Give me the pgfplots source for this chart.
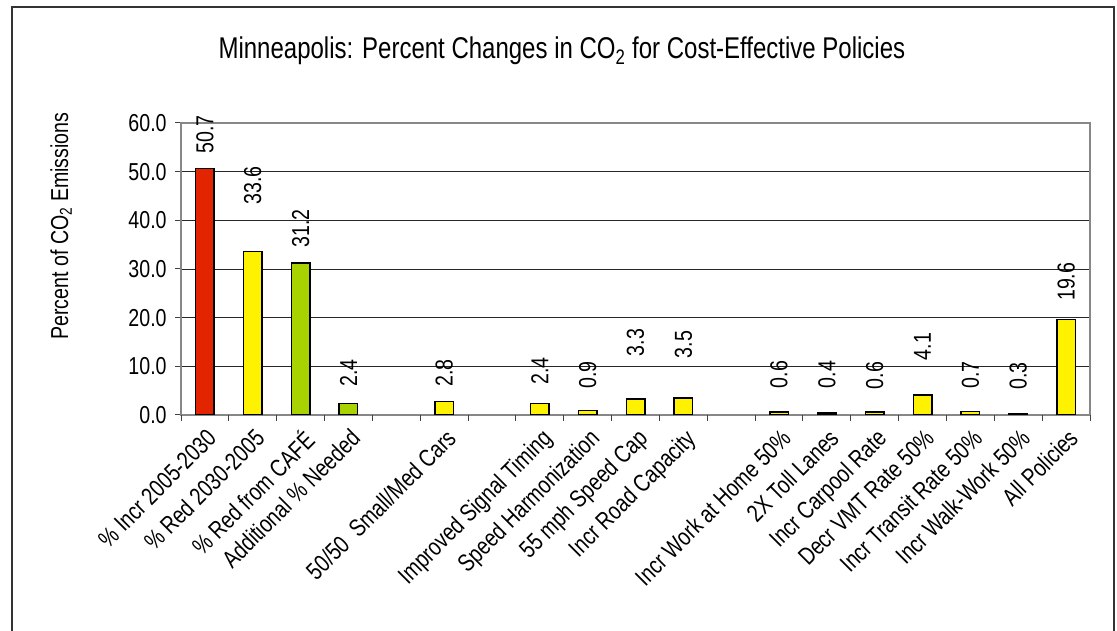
\documentclass[border=0pt]{standalone}
\usepackage{fontspec}
\setmainfont{Liberation Sans}[FakeStretch=0.80]
\usepackage{pgfplots}
\pgfplotsset{compat=1.18}
\usepackage{pgfplotstable}

\definecolor{barred}{RGB}{226,36,0}
\definecolor{baryellow}{RGB}{255,242,0}
\definecolor{bargreen}{RGB}{168,210,0}
\definecolor{framegray}{RGB}{135,135,135}

% x = slot on the category axis, y = percent change, off = label lift (pt)
\pgfplotstableread{
x y off
0 50.7 14
}\redbars
\pgfplotstableread{
x y off
2 31.2 15
3 2.4 16
}\greenbars
\pgfplotstableread{
x y off
1 33.6 46
5 2.8 14
7 2.4 18
8 0.9 21
9 3.3 42
10 3.5 39
12 0.6 23
13 0.4 24
14 0.6 22
15 4.1 34
16 0.7 22
17 0.3 23
18 19.6 18
}\yellowbars

\begin{document}
\fontsize{24.5}{28}\selectfont
\begin{tikzpicture}
\path[use as bounding box] (0pt,0pt) rectangle (1117pt,631pt);
\draw[line width=1.2pt, black!80] (12pt,-3pt) -- (12pt,624pt) -- (1114pt,624pt) -- (1114pt,-3pt);
\begin{axis}[
  at={(181pt,216pt)}, anchor=south west,
  scale only axis, width=909pt, height=292pt,
  xmin=-0.5, xmax=18.5, ymin=0, ymax=60,
  /pgf/number format/assume math mode=true,
  ytick={0,10,...,60},
  yticklabel style={/pgf/number format/.cd, fixed, fixed zerofill, precision=1},
  xtick={0,...,18},
  xticklabels={\% Incr 2005-2030, \% Red 2030-2005, \% Red from CAFÉ, Additional \% Needed, {}, 50/50~ Small/Med Cars, {}, Improved Signal Timing, Speed Harmonization, 55 mph Speed Cap, Incr Road Capacity, {}, Incr Work at Home 50\%, 2X Toll Lanes, Incr Carpool Rate, Decr VMT Rate 50\%, Incr Transit Rate 50\%, Incr Walk-Work 50\%, All Policies},
  xticklabel style={rotate=45, anchor=north east, inner sep=2pt, yshift=-3pt, xshift=-2pt},
  tick pos=left,
  xtick style={draw=none},
  extra x ticks={-0.5,0.5,...,18.5},
  extra x tick labels={},
  extra x tick style={xtick style={draw=black!75, line width=1pt}},
  ytick style={draw=black!75, line width=1pt},
  tick align=outside, major tick length=6pt,
  ymajorgrids, grid style={black!85, line width=0.9pt},
  axis line style={framegray, line width=1.6pt},
  ybar, bar width=18.5pt, bar shift=0pt,
  every axis plot/.append style={draw=black, line width=1.5pt},
  nodes near coords={\pgfmathprintnumber[fixed, fixed zerofill, precision=1]{\pgfplotspointmeta}},
  visualization depends on={\thisrow{off} \as \labeloff},
  every node near coord/.append style={rotate=90, anchor=west, inner xsep=\labeloff pt, inner ysep=0pt, text=black},
  ylabel={Percent of CO\textsubscript{2} Emissions},
  ylabel style={at={(axis description cs:-0.132,0.647)}, anchor=center},
  title={Minneapolis: Percent Changes in CO\textsubscript{2} for Cost-Effective Policies},
  title style={at={(axis description cs:0.419,1.226)}, anchor=center, font=\fontsize{30}{34}\selectfont},
]
\addplot[fill=barred] table[x=x, y=y] {\redbars};
\addplot[fill=bargreen] table[x=x, y=y] {\greenbars};
\addplot[fill=baryellow] table[x=x, y=y] {\yellowbars};
\end{axis}
\end{tikzpicture}
\end{document}
